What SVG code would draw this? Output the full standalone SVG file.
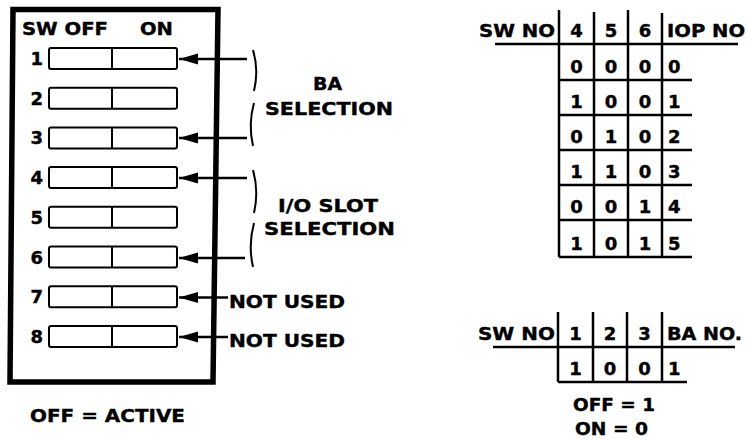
<svg xmlns="http://www.w3.org/2000/svg" width="746" height="439" viewBox="0 0 746 439">
<style>
.t{font-family:"DejaVu Sans","Liberation Sans",Arial,sans-serif;font-weight:bold;font-size:18px;fill:#000;stroke:#000;stroke-width:0.4}
.c{text-anchor:middle}
.e{text-anchor:end}
.sw{fill:#fff;stroke:#000;stroke-width:2}
.ln{stroke:#000;stroke-width:2.5;fill:none}
.ar{stroke:#000;stroke-width:2.5;fill:none}
.br{stroke:#000;stroke-width:2;fill:none}
</style>
<defs>
<marker id="ah" markerUnits="userSpaceOnUse" markerWidth="20" markerHeight="12" refX="19" refY="6" orient="auto" viewBox="0 0 20 12">
<path d="M19,6 L0,0.5 L0,11.5 Z" fill="#000"/>
</marker>
</defs>
<rect width="746" height="439" fill="#fff"/>
<g id="switch-box">
<path d="M13,9.5 L218,9.5 L213,382 L10,382 Z" fill="none" stroke="#000" stroke-width="5.5"/>
<text class="t" x="22" y="35" textLength="86" lengthAdjust="spacingAndGlyphs">SW OFF</text>
<text class="t" x="140" y="35" textLength="33" lengthAdjust="spacingAndGlyphs">ON</text>
</g>
<g id="sw1"><rect class="sw" x="49" y="48" width="128" height="21" rx="2"/><line class="sw" x1="112" y1="48" x2="112" y2="69"/><text class="t e" x="43" y="65">1</text></g>
<g id="sw2"><rect class="sw" x="49" y="87.7" width="128" height="21" rx="2"/><line class="sw" x1="112" y1="87.7" x2="112" y2="108.7"/><text class="t e" x="43" y="104.7">2</text></g>
<g id="sw3"><rect class="sw" x="49" y="127.4" width="128" height="21" rx="2"/><line class="sw" x1="112" y1="127.4" x2="112" y2="148.4"/><text class="t e" x="43" y="144.4">3</text></g>
<g id="sw4"><rect class="sw" x="49" y="167.1" width="128" height="21" rx="2"/><line class="sw" x1="112" y1="167.1" x2="112" y2="188.1"/><text class="t e" x="43" y="184.1">4</text></g>
<g id="sw5"><rect class="sw" x="49" y="206.8" width="128" height="21" rx="2"/><line class="sw" x1="112" y1="206.8" x2="112" y2="227.8"/><text class="t e" x="43" y="223.8">5</text></g>
<g id="sw6"><rect class="sw" x="49" y="246.5" width="128" height="21" rx="2"/><line class="sw" x1="112" y1="246.5" x2="112" y2="267.5"/><text class="t e" x="43" y="263.5">6</text></g>
<g id="sw7"><rect class="sw" x="49" y="286.2" width="128" height="21" rx="2"/><line class="sw" x1="112" y1="286.2" x2="112" y2="307.2"/><text class="t e" x="43" y="303.2">7</text></g>
<g id="sw8"><rect class="sw" x="49" y="325.9" width="128" height="21" rx="2"/><line class="sw" x1="112" y1="325.9" x2="112" y2="346.9"/><text class="t e" x="43" y="342.9">8</text></g>
<g id="connectors">
<line class="ar" x1="247" y1="59" x2="179" y2="59" marker-end="url(#ah)"/>
<line class="ar" x1="247" y1="138" x2="179" y2="138" marker-end="url(#ah)"/>
<line class="ar" x1="247" y1="178" x2="179" y2="178" marker-end="url(#ah)"/>
<line class="ar" x1="245" y1="258" x2="179" y2="258" marker-end="url(#ah)"/>
<line class="ar" x1="228" y1="297.5" x2="179" y2="297.5" marker-end="url(#ah)"/>
<line class="ar" x1="228" y1="337" x2="179" y2="337" marker-end="url(#ah)"/>
</g>
<g id="ba-selection">
<path class="br" d="M253,50 Q259,70 254,91"/>
<path class="br" d="M254,103 Q248,124 253,146"/>
<text class="t" x="313" y="90" textLength="29" lengthAdjust="spacingAndGlyphs">BA</text>
<text class="t" x="265" y="115" textLength="128" lengthAdjust="spacingAndGlyphs">SELECTION</text>
</g>
<g id="io-selection">
<path class="br" d="M253,170 Q259,191 254,213"/>
<path class="br" d="M254,223 Q248,245 253,267"/>
<text class="t" x="278" y="212" textLength="100" lengthAdjust="spacingAndGlyphs">I/O SLOT</text>
<text class="t" x="264" y="235" textLength="131" lengthAdjust="spacingAndGlyphs">SELECTION</text>
</g>
<g id="not-used">
<text class="t" x="229" y="308" textLength="116" lengthAdjust="spacingAndGlyphs">NOT USED</text>
<text class="t" x="229" y="347" textLength="116" lengthAdjust="spacingAndGlyphs">NOT USED</text>
</g>
<g id="off-active">
<text class="t" x="30" y="422" textLength="155" lengthAdjust="spacingAndGlyphs">OFF = ACTIVE</text>
</g>
<g id="iop-table">
<line class="ln" x1="495" y1="44" x2="738" y2="44"/>
<line class="ln" x1="559" y1="10" x2="559" y2="257"/>
<line class="ln" x1="594" y1="12" x2="594" y2="257"/>
<line class="ln" x1="628" y1="10" x2="628" y2="257"/>
<line class="ln" x1="662" y1="13" x2="662" y2="257"/>
<line class="ln" x1="559" y1="80" x2="692" y2="80"/>
<line class="ln" x1="559" y1="115" x2="692" y2="115"/>
<line class="ln" x1="559" y1="150" x2="692" y2="150"/>
<line class="ln" x1="559" y1="185" x2="692" y2="185"/>
<line class="ln" x1="559" y1="220" x2="692" y2="220"/>
<line class="ln" x1="559" y1="257" x2="692" y2="257"/>
<text class="t" x="479" y="37" textLength="76" lengthAdjust="spacingAndGlyphs">SW NO</text>
<text class="t c" x="576.5" y="37">4</text>
<text class="t c" x="611" y="37">5</text>
<text class="t c" x="645" y="37">6</text>
<text class="t" x="667" y="37" textLength="78" lengthAdjust="spacingAndGlyphs">IOP NO</text>
<text class="t c" x="576.5" y="73">0</text><text class="t c" x="611" y="73">0</text><text class="t c" x="645" y="73">0</text><text class="t" x="668" y="73">0</text>
<text class="t c" x="576.5" y="108">1</text><text class="t c" x="611" y="108">0</text><text class="t c" x="645" y="108">0</text><text class="t" x="668" y="108">1</text>
<text class="t c" x="576.5" y="143">0</text><text class="t c" x="611" y="143">1</text><text class="t c" x="645" y="143">0</text><text class="t" x="668" y="143">2</text>
<text class="t c" x="576.5" y="178">1</text><text class="t c" x="611" y="178">1</text><text class="t c" x="645" y="178">0</text><text class="t" x="668" y="178">3</text>
<text class="t c" x="576.5" y="213">0</text><text class="t c" x="611" y="213">0</text><text class="t c" x="645" y="213">1</text><text class="t" x="668" y="213">4</text>
<text class="t c" x="576.5" y="250">1</text><text class="t c" x="611" y="250">0</text><text class="t c" x="645" y="250">1</text><text class="t" x="668" y="250">5</text>
</g>
<g id="ba-table">
<line class="ln" x1="493" y1="347" x2="735" y2="347"/>
<line class="ln" x1="558" y1="312" x2="558" y2="382"/>
<line class="ln" x1="593" y1="312" x2="593" y2="382"/>
<line class="ln" x1="627" y1="312" x2="627" y2="382"/>
<line class="ln" x1="662" y1="312" x2="662" y2="382"/>
<line class="ln" x1="558" y1="382" x2="687" y2="382"/>
<text class="t" x="478" y="340" textLength="77" lengthAdjust="spacingAndGlyphs">SW NO</text>
<text class="t c" x="575.5" y="340">1</text>
<text class="t c" x="610" y="340">2</text>
<text class="t c" x="644.5" y="340">3</text>
<text class="t" x="667" y="340" textLength="75" lengthAdjust="spacingAndGlyphs">BA NO.</text>
<text class="t c" x="575.5" y="375">1</text>
<text class="t c" x="610" y="375">0</text>
<text class="t c" x="644.5" y="375">0</text>
<text class="t" x="668" y="375">1</text>
<text class="t" x="573" y="411" textLength="82" lengthAdjust="spacingAndGlyphs">OFF = 1</text>
<text class="t" x="575" y="435" textLength="73" lengthAdjust="spacingAndGlyphs">ON = 0</text>
</g>
</svg>
